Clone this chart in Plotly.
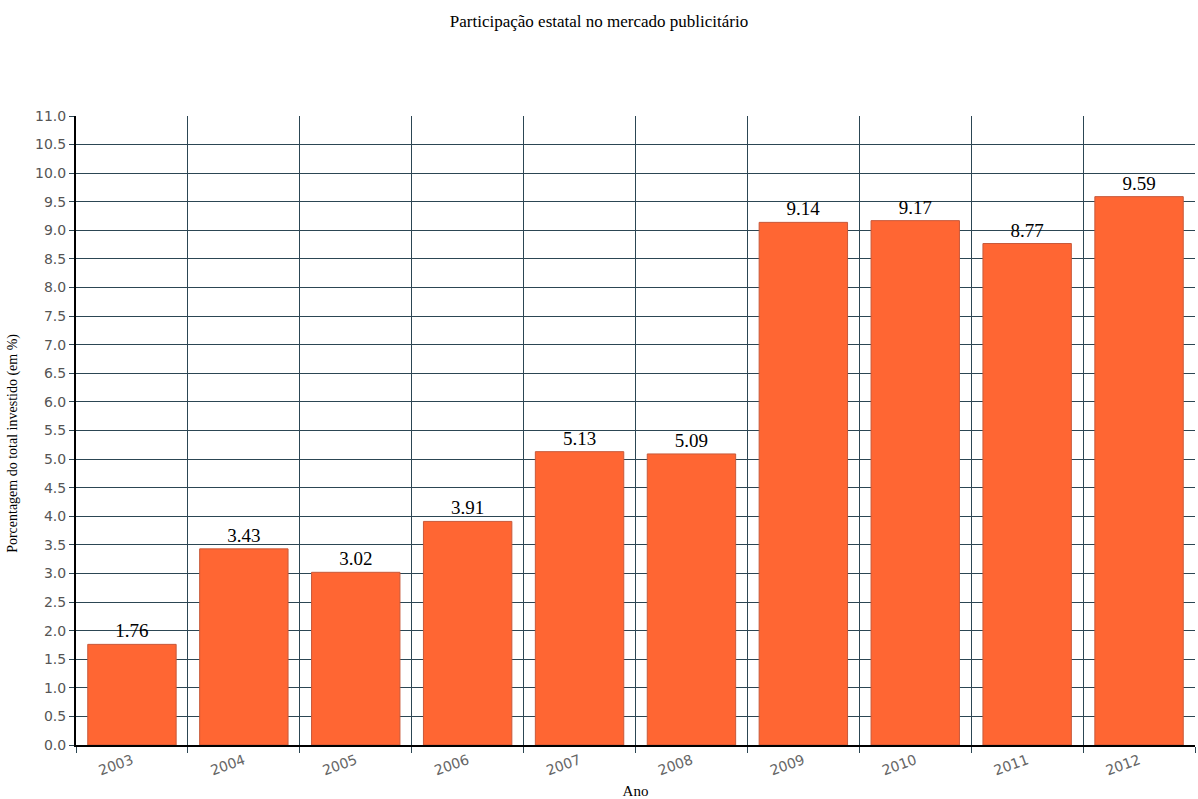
import plotly.graph_objects as go

years = ["2003", "2004", "2005", "2006", "2007", "2008", "2009", "2010", "2011", "2012"]
values = [1.76, 3.43, 3.02, 3.91, 5.13, 5.09, 9.14, 9.17, 8.77, 9.59]
labels = ["1.76", "3.43", "3.02", "3.91", "5.13", "5.09", "9.14", "9.17", "8.77", "9.59"]

serif = "Liberation Serif, Times New Roman, serif"
sans = "DejaVu Sans, Verdana, sans-serif"
grid = "#2c4653"

fig = go.Figure(go.Bar(
    x=years, y=values, text=labels, textposition="outside",
    textfont=dict(family=serif, size=19, color="#000000"),
    marker=dict(color="#FF6633", line=dict(color="#c8593a", width=1)),
    cliponaxis=False,
))

fig.update_layout(
    width=1198, height=799,
    margin=dict(l=76, r=3, t=116, b=54, autoexpand=False),
    paper_bgcolor="white", plot_bgcolor="white",
    bargap=0.21,
    showlegend=False,
    title=dict(text="Participação estatal no mercado publicitário",
               font=dict(family=serif, size=17, color="#000000"),
               x=0.5, xanchor="center", y=0.974, yanchor="middle"),
    annotations=[dict(
        text="Porcentagem do total investido (em %)",
        xref="paper", yref="paper", x=-0.0565, y=0.48,
        xanchor="center", yanchor="middle", textangle=-90, showarrow=False,
        font=dict(family=serif, size=14, color="#000000"),
    )],
)

fig.update_xaxes(
    type="category", tickson="boundaries", range=[-0.5, 9.5],
    automargin=False,
    showgrid=True, gridcolor=grid, gridwidth=1,
    showline=True, linecolor="#000000", linewidth=2,
    ticks="outside", ticklen=6, tickcolor=grid, tickwidth=1,
    tickangle=-20,
    tickfont=dict(family=sans, size=14, color="#666666"),
    title=dict(text="Ano", font=dict(family=serif, size=15, color="#000000"), standoff=10),
)

fig.update_yaxes(
    range=[0, 11], dtick=0.5, tick0=0, tickformat=".1f",
    automargin=False,
    showgrid=True, gridcolor=grid, gridwidth=1,
    showline=True, linecolor="#000000", linewidth=2,
    ticks="outside", ticklen=5, tickcolor=grid, tickwidth=1,
    tickfont=dict(family=sans, size=14, color="#555555"),
    zeroline=False,
)

fig.write_html("out.html")
